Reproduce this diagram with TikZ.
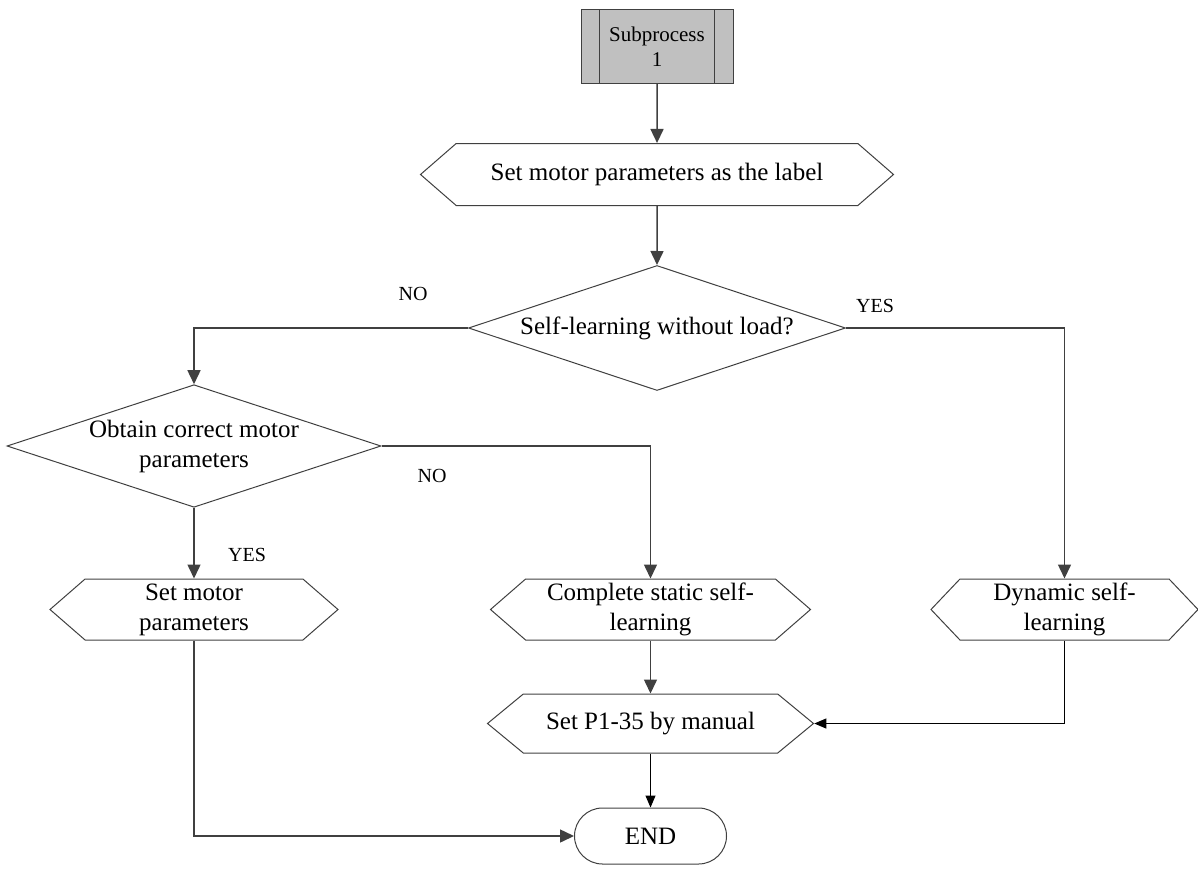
\documentclass[tikz,border=0pt]{standalone}
\usepackage{fontspec}
\setmainfont{Liberation Serif}
\usetikzlibrary{shapes.geometric,shapes.symbols,shapes.misc,arrows.meta}
\definecolor{lineGray}{HTML}{404040}
\definecolor{subFill}{HTML}{C0C0C0}
\tikzset{
  flowText/.style={font=\fontsize{25}{30}\selectfont, align=center, inner sep=0pt},
  hexNode/.style={flowText, draw=lineGray, line width=1pt, shape=signal, signal from=nowhere,
    signal to=east and west, signal pointer angle=82, minimum height=62pt},
  decNode/.style={flowText, draw=lineGray, line width=1pt, diamond, aspect=3},
  subNode/.style={draw=lineGray, line width=1pt, fill=subFill, minimum width=152pt, minimum height=73pt,
    font=\fontsize{21}{25}\selectfont, align=center, inner sep=0pt,
    path picture={
      \draw[lineGray, line width=1pt] ([xshift=18pt]path picture bounding box.north west) -- ([xshift=18pt]path picture bounding box.south west);
      \draw[lineGray, line width=1pt] ([xshift=-19pt]path picture bounding box.north east) -- ([xshift=-19pt]path picture bounding box.south east);
    }},
  endNode/.style={flowText, draw=lineGray, line width=1pt, rounded rectangle, minimum width=152pt, minimum height=56pt},
  tagText/.style={font=\fontsize{20}{24}\selectfont, inner sep=0pt},
  flowArrow/.style={draw=lineGray, line width=1.5pt, -{Triangle[length=14pt,width=13pt]}},
  thinArrow/.style={draw=black, line width=1pt, -{Triangle[length=12pt,width=10pt]}},
}
\begin{document}
\begin{tikzpicture}[x=1pt,y=-1pt]
\useasboundingbox (0,0) rectangle (1198,875);
\node[subNode] (sub) at (657,46.5) {Subprocess\\1};
\node[hexNode, minimum width=473pt] (lbl) at (657,174.5) {Set motor parameters as the label};
\node[decNode, minimum width=377pt, minimum height=125pt] (q1) at (657,328) {Self-learning without load?};
\node[decNode, minimum width=374pt, minimum height=121pt] (q2) at (194,446) {Obtain correct motor\\parameters};
\node[hexNode, minimum width=288pt, minimum height=61pt] (setm) at (194,609.5) {Set motor\\parameters};
\node[hexNode, minimum width=320pt, minimum height=61pt] (stat) at (650.5,609.5) {Complete static self-\\learning};
\node[hexNode, minimum width=267pt, minimum height=61pt, signal pointer angle=93] (dyn) at (1064.5,609.5) {Dynamic self-\\learning};
\node[hexNode, minimum width=326pt, minimum height=59pt, signal pointer angle=79] (p135) at (650.5,723.5) {Set P1-35 by manual};
\node[endNode] (endn) at (650.5,836) {END};
\node[tagText] (no1) at (413,294) {NO};
\node[tagText] (yes1) at (875,306) {YES};
\node[tagText] (no2) at (432,476) {NO};
\node[tagText] (yes2) at (247,555) {YES};
\draw[flowArrow] (sub) -- (lbl);
\draw[flowArrow] (lbl) -- (q1);
\draw[flowArrow] (q1.west) -| (q2.north);
\draw[flowArrow] (q1.east) -| (dyn.north);
\draw[flowArrow] (q2.east) -| (stat.north);
\draw[flowArrow] (q2.south) -- (setm.north);
\draw[flowArrow] (stat.south) -- (p135.north);
\draw[thinArrow] (dyn.south) |- (p135.east);
\draw[thinArrow] (p135.south) -- (endn.north);
\draw[flowArrow] (setm.south) |- (endn.west);
\end{tikzpicture}
\end{document}
